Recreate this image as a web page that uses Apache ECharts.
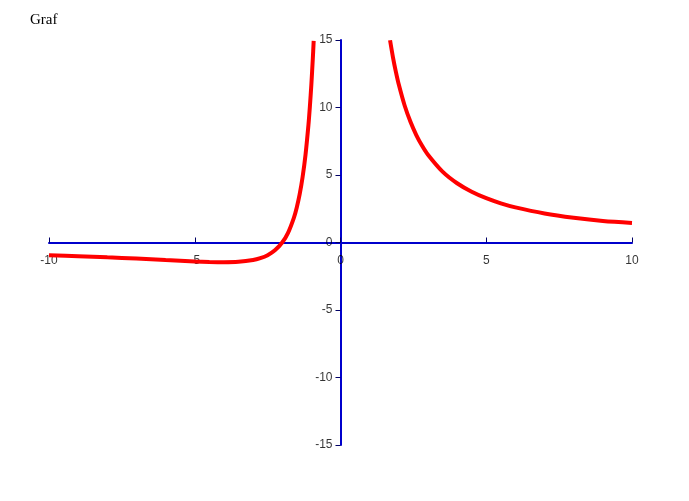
<!DOCTYPE html>
<html>
<head>
<meta charset="utf-8">
<script src="https://cdn.jsdelivr.net/npm/echarts@6/dist/echarts.min.js"></script>
<style>html,body{margin:0;padding:0;background:#fff;}#c{width:689px;height:501px;}</style>
</head>
<body>
<div id="c"></div>
<script>
const titleText = "Graf";
const xTicks = [-10, -5, 0, 5, 10];
const yTicks = [-15, -10, -5, 0, 5, 10, 15];
const leftX = [-10, -9, -8, -7, -6, -5, -4.5, -4, -3.5, -3, -2.75, -2.5, -2.25, -2, -1.8, -1.6, -1.5, -1.4, -1.3, -1.2, -1.1, -1.05, -1.0, -0.95, -0.92];
const leftY = [-0.94, -1.01, -1.10, -1.19, -1.30, -1.40, -1.44, -1.46, -1.43, -1.30, -1.16, -0.94, -0.58, 0, 0.72, 1.83, 2.6, 3.58, 4.85, 6.5, 8.7, 10.08, 11.7, 13.61, 14.93];
const rightX = [1.7, 1.8, 1.9, 2.0, 2.2, 2.4, 2.6, 2.8, 3, 3.5, 4, 4.5, 5, 5.5, 6, 7, 8, 9, 10];
const rightY = [14.98, 13.72, 12.64, 11.7, 10.15, 8.94, 7.96, 7.16, 6.5, 5.25, 4.39, 3.76, 3.28, 2.9, 2.6, 2.15, 1.83, 1.59, 1.45];

const chart = echarts.init(document.getElementById('c'), null, {renderer: 'canvas'});
const seriesStyle = {color: '#ff0000', width: 4};
const labelFont = {color: '#000', fontFamily: 'Liberation Sans', fontSize: 12};
chart.setOption({
  animation: false,
  title: {text: titleText, left: 25, top: 8, textStyle: {fontFamily: 'Liberation Serif', fontWeight: 'normal', fontSize: 15, color: '#000'}},
  grid: {left: 49, right: 57, top: 40, bottom: 56},
  xAxis: {
    type: 'value', min: -10, max: 10, interval: 5,
    axisLine: {onZero: true, lineStyle: {color: '#0000cc', width: 2}},
    axisTick: {show: true, inside: true, length: 5, lineStyle: {color: '#000066', width: 1}},
    axisLabel: {show: false},
    splitLine: {show: false}
  },
  yAxis: {
    type: 'value', min: -15, max: 15, interval: 5,
    axisLine: {onZero: true, lineStyle: {color: '#0000cc', width: 2}},
    axisTick: {show: true, length: 5, lineStyle: {color: '#000066', width: 1}},
    axisLabel: {show: false},
    splitLine: {show: false}
  },
  series: [
    {type: 'line', data: leftX.map((x, i) => [x, leftY[i]]), smooth: 0.3, showSymbol: false, lineStyle: seriesStyle, z: 3},
    {type: 'line', data: rightX.map((x, i) => [x, rightY[i]]), smooth: 0.3, showSymbol: false, lineStyle: seriesStyle, z: 3},
    {type: 'scatter', data: xTicks.map(v => [v, 0, String(v)]), symbolSize: 0, clip: false, silent: true, z: 1,
      label: Object.assign({show: true, position: 'bottom', distance: 12, formatter: p => p.data[2]}, labelFont)},
    {type: 'scatter', data: yTicks.map(v => [0, v, String(v)]), symbolSize: 0, clip: false, silent: true, z: 1,
      label: Object.assign({show: true, position: 'left', distance: 8, formatter: p => p.data[2]}, labelFont)}
  ]
});
</script>
</body>
</html>
